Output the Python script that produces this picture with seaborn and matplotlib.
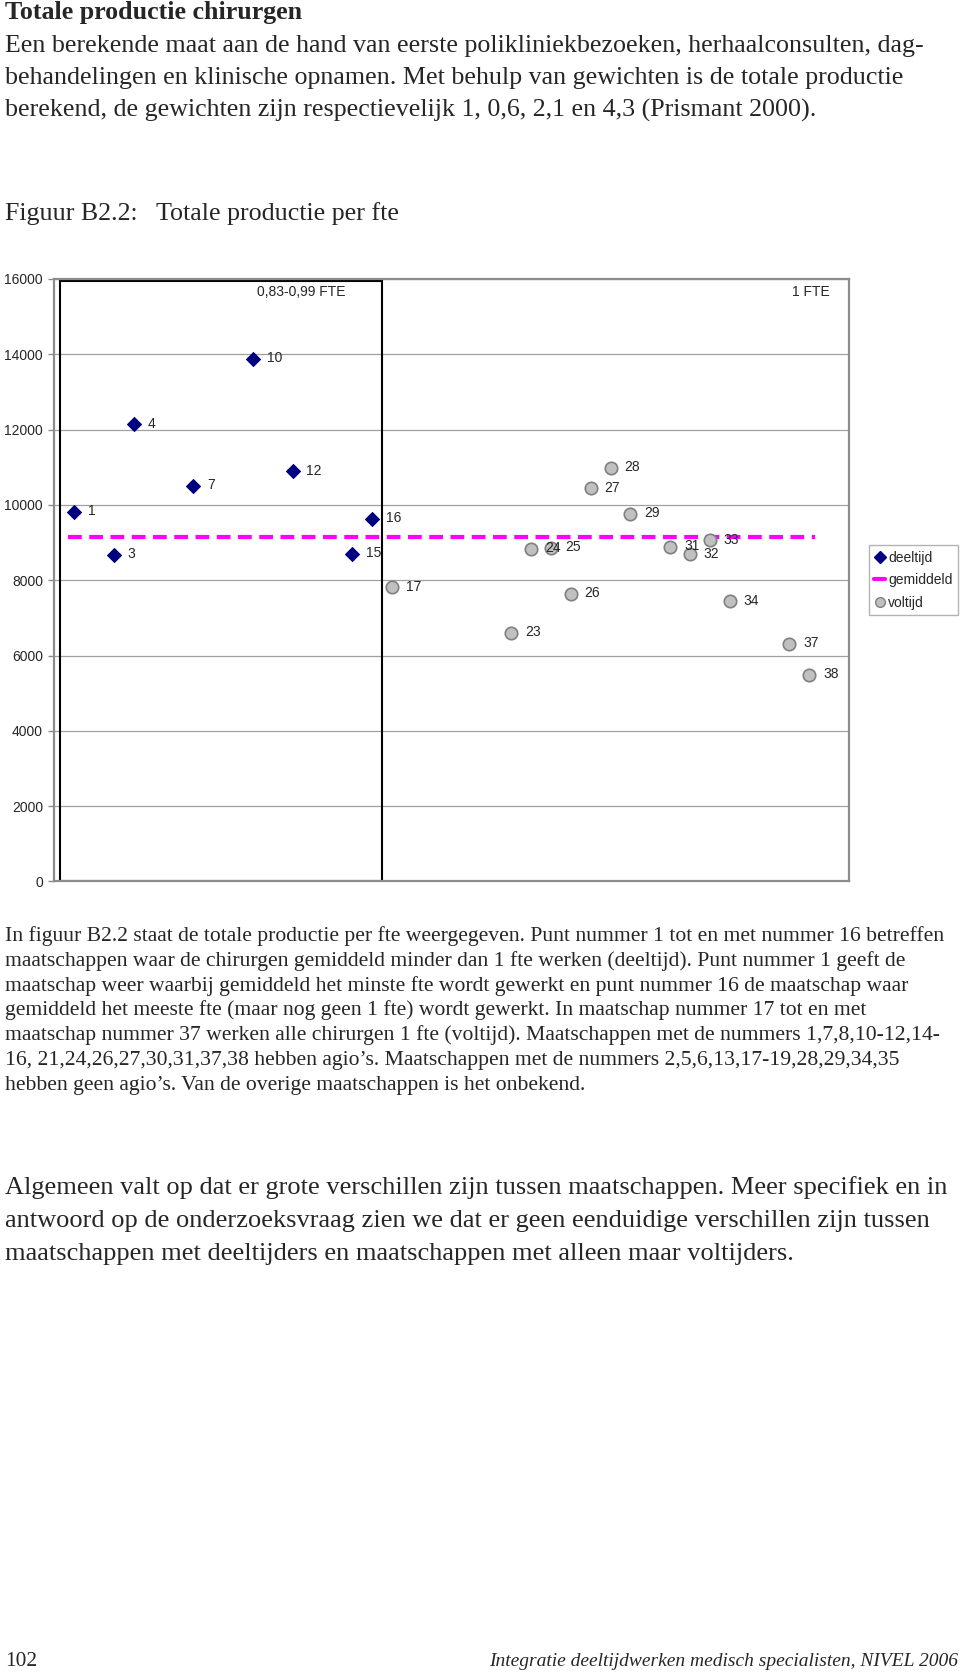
import pandas as pd
import matplotlib
matplotlib.use("Agg")
import matplotlib.pyplot as plt
from matplotlib.patches import Rectangle
from matplotlib.lines import Line2D
import seaborn as sns

# data
deeltijd_nr = [1, 3, 4, 7, 10, 12, 15, 16]
deeltijd_val = [9820, 8670, 12140, 10500, 13880, 10890, 8700, 9630]
voltijd_nr = [17, 23, 24, 25, 26, 27, 28, 29, 31, 32, 33, 34, 37, 38]
voltijd_val = [7810, 6610, 8840, 8860, 7630, 10440, 10990, 9770, 8890, 8690, 9060, 7440, 6310, 5480]
gemiddeld = 9140
gemiddeld_x = [0.7, 38.3]
box_x = [0.3, 16.5]
box_top = 15950
y_ticks = [0, 2000, 4000, 6000, 8000, 10000, 12000, 14000, 16000]

deeltijd = pd.DataFrame({"nr": deeltijd_nr, "productie": deeltijd_val})
voltijd = pd.DataFrame({"nr": voltijd_nr, "productie": voltijd_val})

sns.set_style("white")
plt.rcParams["font.family"] = ["Liberation Sans", "DejaVu Sans"]

W, H = 960, 1675
fig = plt.figure(figsize=(W / 100, H / 100), dpi=100)

def fy(px):
    return 1 - px / H

def fx(px):
    return px / W

# ---- chart ----
ax = fig.add_axes([fx(54), fy(881.4), fx(849) - fx(54), fy(279) - fy(881.4)])
ax.set_xlim(0, 40)
ax.set_ylim(0, 16000)
ax.set_yticks(y_ticks)
ax.set_yticklabels([str(t) for t in y_ticks], fontsize=10)
ax.set_xticks([])
ax.yaxis.grid(True, color="#a0a0a0", linewidth=0.9)
ax.set_axisbelow(True)
for s in ax.spines.values():
    s.set_color("#8c8c8c")
    s.set_linewidth(1.6)
ax.tick_params(axis="y", length=4, width=1, color="#8c8c8c", pad=4, left=True)

ax.add_patch(Rectangle((box_x[0], 0), box_x[1] - box_x[0], box_top,
                       fill=False, edgecolor="black", linewidth=1.5, zorder=2))

ax.plot(gemiddeld_x, [gemiddeld, gemiddeld], color="#ff00ff", linewidth=3,
        dashes=(3.3, 1.8), zorder=3)

sns.scatterplot(data=deeltijd, x="nr", y="productie", marker="D", s=50,
                color="#000080", edgecolor="#000080", linewidth=0.8, ax=ax, zorder=4)
sns.scatterplot(data=voltijd, x="nr", y="productie", marker="o", s=80,
                color="#c0c0c0", edgecolor="#808080", linewidth=1.2, ax=ax, zorder=4)
ax.set_xlabel("")
ax.set_ylabel("")

for df in (deeltijd, voltijd):
    for n, v in zip(df["nr"], df["productie"]):
        ax.annotate(str(n), (n, v), xytext=(10, 0.5), textcoords="offset points",
                    ha="left", va="center", fontsize=10, zorder=5)

ax.text(12.46, 15660, "0,83-0,99 FTE", ha="center", va="center", fontsize=10)
ax.text(38.07, 15660, "1 FTE", ha="center", va="center", fontsize=10)

handles = [
    Line2D([], [], marker="D", color="#000080", linestyle="none", markersize=6),
    Line2D([], [], color="#ff00ff", linewidth=3),
    Line2D([], [], marker="o", markerfacecolor="#c0c0c0", markeredgecolor="#808080",
           linestyle="none", markersize=7),
]
leg = fig.legend(handles, ["deeltijd", "gemiddeld", "voltijd"], loc="center",
                 bbox_to_anchor=(fx(913.2), fy(580.3)), fontsize=10,
                 frameon=True, fancybox=False, handlelength=0.8, handletextpad=0.2,
                 labelspacing=0.6, borderpad=0.4, borderaxespad=0)
leg.get_frame().set_edgecolor("#a0a0a0")
leg.get_frame().set_linewidth(1)

# ---- page text ----
serif = ["Liberation Serif", "DejaVu Serif"]

def line(x, y, s, size, **kw):
    fig.text(fx(x), fy(y), s, fontsize=size, family=serif, va="baseline", **kw)

line(5, 18.5, "Totale productie chirurgen", 18.7, weight="bold")
para1 = [
    "Een berekende maat aan de hand van eerste polikliniekbezoeken, herhaalconsulten, dag-",
    "behandelingen en klinische opnamen. Met behulp van gewichten is de totale productie",
    "berekend, de gewichten zijn respectievelijk 1, 0,6, 2,1 en 4,3 (Prismant 2000).",
]
for i, s in enumerate(para1):
    line(5, 51.7 + i * 32.5, s, 18.7)

line(5, 220, "Figuur B2.2:", 18.7)
line(156, 220, "Totale productie per fte", 18.7)

para2 = [
    "In figuur B2.2 staat de totale productie per fte weergegeven. Punt nummer 1 tot en met nummer 16 betreffen",
    "maatschappen waar de chirurgen gemiddeld minder dan 1 fte werken (deeltijd). Punt nummer 1 geeft de",
    "maatschap weer waarbij gemiddeld het minste fte wordt gewerkt en punt nummer 16 de maatschap waar",
    "gemiddeld het meeste fte (maar nog geen 1 fte) wordt gewerkt. In maatschap nummer 17 tot en met",
    "maatschap nummer 37 werken alle chirurgen 1 fte (voltijd). Maatschappen met de nummers 1,7,8,10-12,14-",
    "16, 21,24,26,27,30,31,37,38 hebben agio\u2019s. Maatschappen met de nummers 2,5,6,13,17-19,28,29,34,35",
    "hebben geen agio\u2019s. Van de overige maatschappen is het onbekend.",
]
for i, s in enumerate(para2):
    line(5, 941 + i * 24.8, s, 15.6)

para3 = [
    "Algemeen valt op dat er grote verschillen zijn tussen maatschappen. Meer specifiek en in",
    "antwoord op de onderzoeksvraag zien we dat er geen eenduidige verschillen zijn tussen",
    "maatschappen met deeltijders en maatschappen met alleen maar voltijders.",
]
for i, s in enumerate(para3):
    line(5, 1194 + i * 32.8, s, 19)

line(5, 1666, "102", 15.4)
fig.text(fx(958), fy(1666), "Integratie deeltijdwerken medisch specialisten, NIVEL 2006",
         fontsize=14, family=serif, style="italic", ha="right", va="baseline")

fig.savefig("out.png", dpi=100)
